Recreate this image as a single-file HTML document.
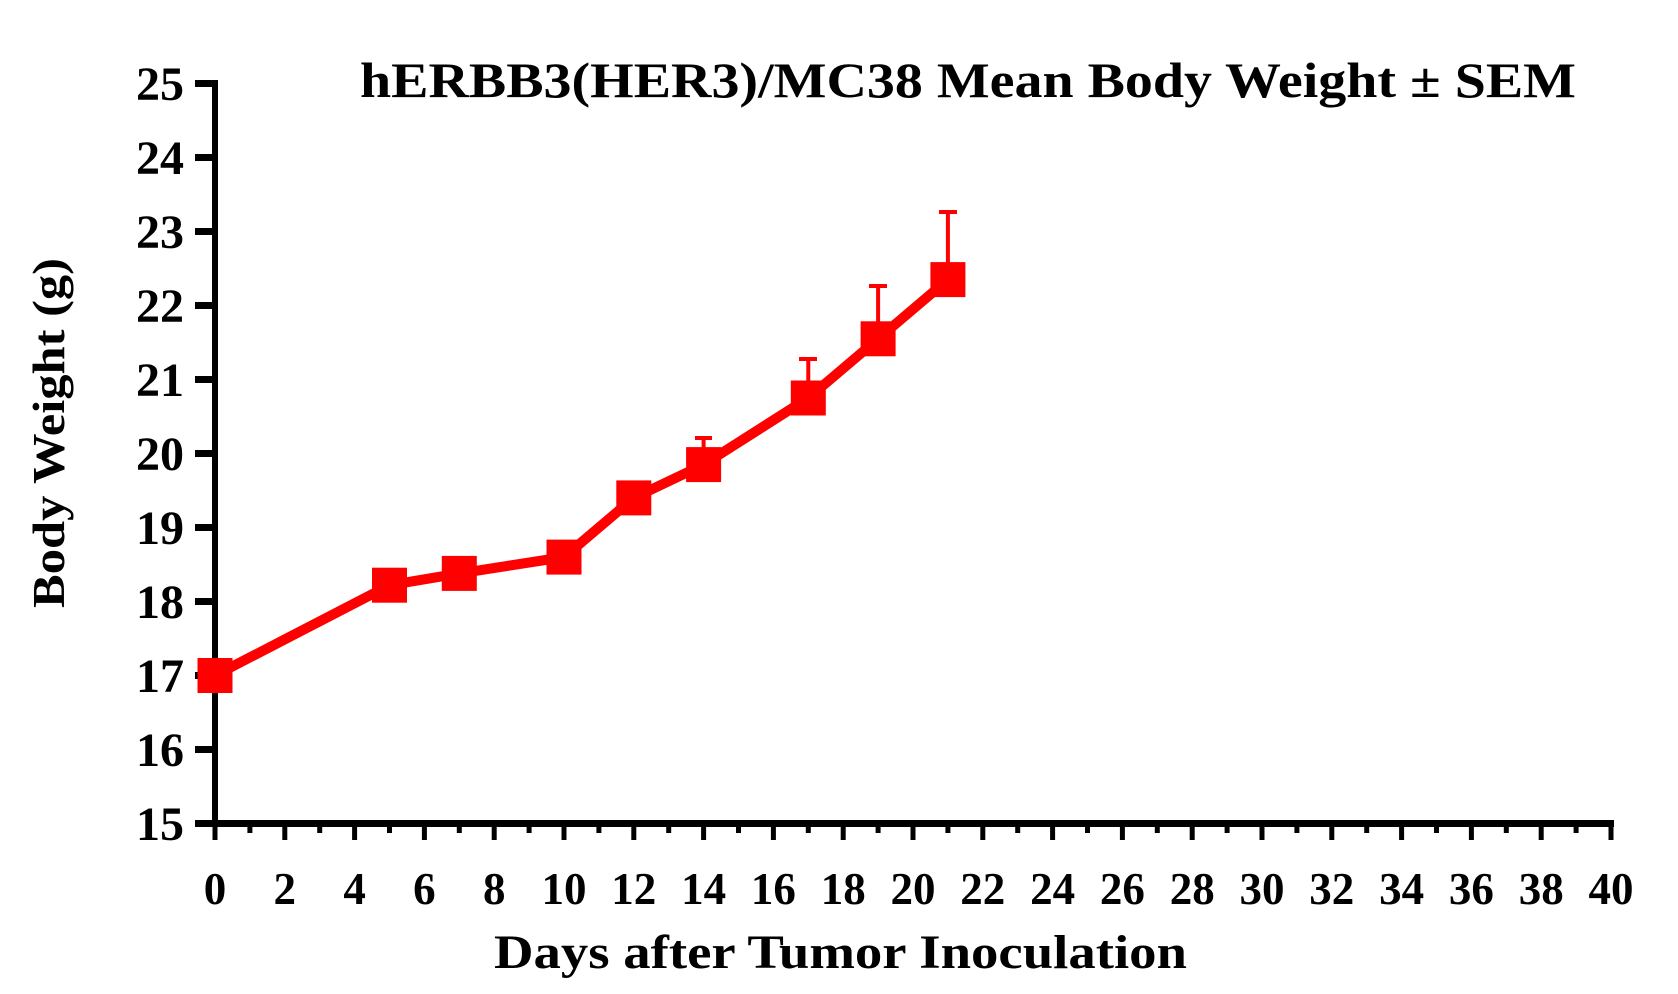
<!DOCTYPE html>
<html><head><meta charset="utf-8"><style>html,body{margin:0;padding:0;background:#fff;}svg{display:block}</style></head>
<body>
<svg width="1678" height="994" viewBox="0 0 1678 994" xmlns="http://www.w3.org/2000/svg" font-family="'Liberation Serif', serif" font-weight="bold">
<rect width="1678" height="994" fill="#fff"/>
<text x="360" y="97" font-size="50" textLength="1216" lengthAdjust="spacingAndGlyphs">hERBB3(HER3)/MC38 Mean Body Weight ± SEM</text>
<g stroke="#000" fill="none">
<line x1="215" y1="80" x2="215" y2="827" stroke-width="6"/>
<line x1="212" y1="823.5" x2="1614" y2="823.5" stroke-width="7"/>
</g>
<g id="yt" stroke="#000" stroke-width="7">
<line x1="195" y1="83.5" x2="218" y2="83.5"/>
<line x1="195" y1="157.5" x2="215" y2="157.5"/>
<line x1="195" y1="231.5" x2="215" y2="231.5"/>
<line x1="195" y1="305.5" x2="215" y2="305.5"/>
<line x1="195" y1="379.5" x2="215" y2="379.5"/>
<line x1="195" y1="453.5" x2="215" y2="453.5"/>
<line x1="195" y1="527.5" x2="215" y2="527.5"/>
<line x1="195" y1="601.5" x2="215" y2="601.5"/>
<line x1="195" y1="675.5" x2="215" y2="675.5"/>
<line x1="195" y1="749.5" x2="215" y2="749.5"/>
<line x1="195" y1="823.5" x2="215" y2="823.5"/>
</g>
<g font-size="48" text-anchor="end">
<text x="184" y="100">25</text><text x="184" y="174">24</text><text x="184" y="248">23</text><text x="184" y="322">22</text><text x="184" y="396">21</text><text x="184" y="470">20</text><text x="184" y="544">19</text><text x="184" y="618">18</text><text x="184" y="692">17</text><text x="184" y="766">16</text><text x="184" y="840">15</text>
</g>
<g stroke="#000" stroke-width="5" id="xt"></g>
<g font-size="45" text-anchor="middle" id="xl"></g>
<script>
(function(){var ns="http://www.w3.org/2000/svg",g=document.getElementById("xt"),l=document.getElementById("xl");
for(var d=0;d<=40;d++){var x=215+d*34.9;var e=document.createElementNS(ns,"line");e.setAttribute("x1",x);e.setAttribute("x2",x);e.setAttribute("y1",823);e.setAttribute("y2",d%2?833:840);g.appendChild(e);
if(d%2==0){var t=document.createElementNS(ns,"text");t.setAttribute("x",x);t.setAttribute("y",904);t.textContent=d;l.appendChild(t);}}})();
</script>
<text x="494" y="968" font-size="48" textLength="693" lengthAdjust="spacingAndGlyphs">Days after Tumor Inoculation</text>
<text transform="translate(64,433) rotate(-90)" font-size="46" text-anchor="middle" textLength="350" lengthAdjust="spacingAndGlyphs">Body Weight (g)</text>
<g stroke="#ff0000" stroke-width="4">
<line x1="703.6" y1="438" x2="703.6" y2="468"/><line x1="695" y1="438" x2="712" y2="438"/>
<line x1="808.3" y1="359" x2="808.3" y2="400"/><line x1="799" y1="359" x2="817" y2="359"/>
<line x1="878.1" y1="286" x2="878.1" y2="330"/><line x1="869" y1="286" x2="887" y2="286"/>
<line x1="947.9" y1="212" x2="947.9" y2="270"/><line x1="939" y1="212" x2="957" y2="212"/>
</g>
<polyline fill="none" stroke="#ff0000" stroke-width="10" points="215,675.5 389.5,585.2 459.3,573.4 564,557.1 633.8,497.9 703.6,464.6 808.3,398 878.1,338.8 947.9,279.6"/>
<g fill="#ff0000">
<rect x="197.5" y="658" width="35" height="35"/>
<rect x="372" y="567.7" width="35" height="35"/>
<rect x="441.8" y="555.9" width="35" height="35"/>
<rect x="546.5" y="539.6" width="35" height="35"/>
<rect x="616.3" y="480.4" width="35" height="35"/>
<rect x="686.1" y="447.1" width="35" height="35"/>
<rect x="790.8" y="380.5" width="35" height="35"/>
<rect x="860.6" y="321.3" width="35" height="35"/>
<rect x="930.4" y="262.1" width="35" height="35"/>
</g>
</svg>
</body></html>
